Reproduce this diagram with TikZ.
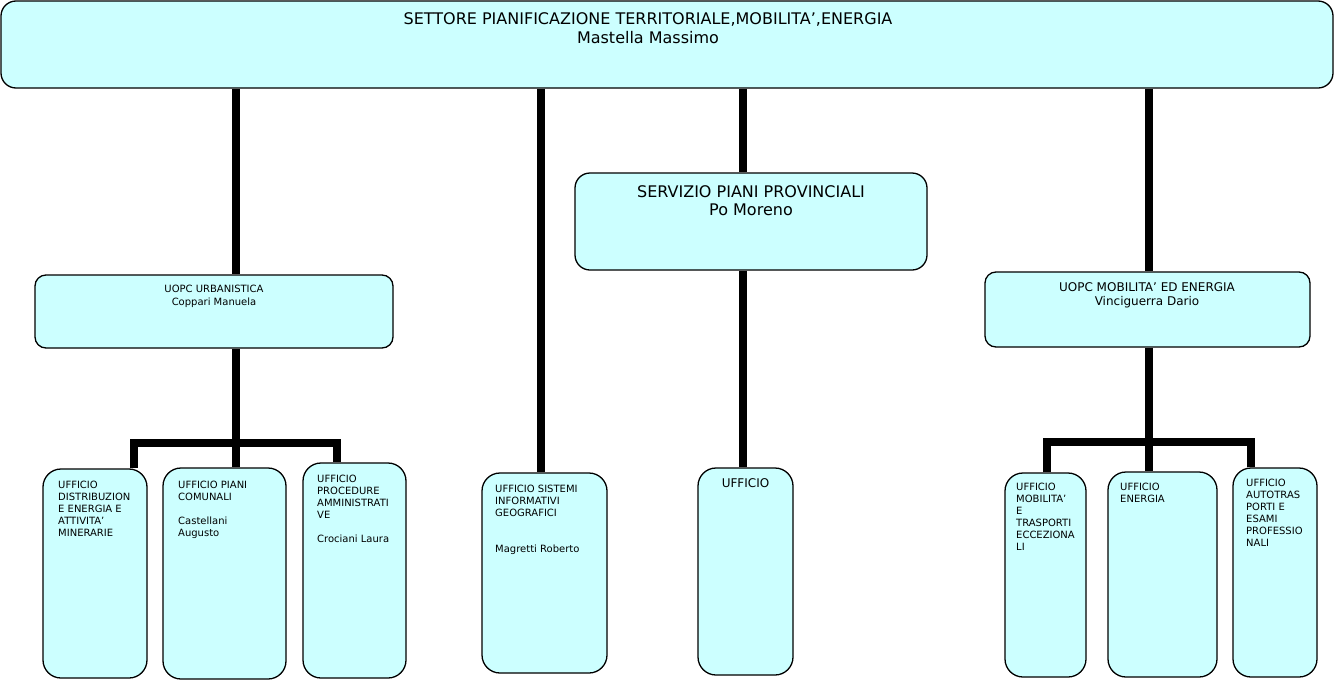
\documentclass[tikz,border=0pt]{standalone}
\usepackage{fontspec}
\setmainfont{DejaVu Sans}
\usetikzlibrary{fit}
\definecolor{boxfill}{RGB}{204,255,255}
\begin{document}
\begin{tikzpicture}[x=1pt,y=-1pt,
  box/.style={draw=black, line width=1.3pt, fill=boxfill, rounded corners=15pt, inner sep=0pt},
  sbox/.style={box, rounded corners=18pt},
  ubox/.style={box, rounded corners=11pt},
  conn/.style={line width=8pt, line cap=butt, line join=miter},
  txt/.style={inner sep=0pt, align=left, font=\fontsize{10}{12}\selectfont},
  ctxt/.style={inner sep=0pt, align=center}]
\useasboundingbox (0,0) rectangle (1334,683);

% boxes
\node[box, fit={(1,1) (1333,88)}] (top) {};
\node[box, fit={(575,173) (927,270)}] (serv) {};
\node[ubox, fit={(35,275) (393,348)}] (urb) {};
\node[ubox, fit={(985,272) (1310,347)}] (mob) {};
\node[sbox, fit={(43,469) (147,678)}] (b1) {};
\node[sbox, fit={(163,468) (286,679)}] (b2) {};
\node[sbox, fit={(303,463) (406,678)}] (b3) {};
\node[sbox, fit={(482,473) (607,673)}] (sis) {};
\node[sbox, fit={(698,468) (793,675)}] (uff) {};
\node[sbox, fit={(1005,473) (1086,677)}] (m1) {};
\node[sbox, fit={(1108,472) (1217,677)}] (m2) {};
\node[sbox, fit={(1233,468) (1317,677)}] (m3) {};

% texts
\node[ctxt, anchor=north, font=\fontsize{16}{19}\selectfont] (topt) at (648,12)
  {SETTORE PIANIFICAZIONE TERRITORIALE,MOBILITA’,ENERGIA\\Mastella Massimo};
\node[ctxt, anchor=north, font=\fontsize{16}{18.5}\selectfont] (servt) at (751,185)
  {SERVIZIO PIANI PROVINCIALI\\Po Moreno};
\node[ctxt, anchor=north, font=\fontsize{10}{13}\selectfont] (urbt) at (214,285)
  {UOPC URBANISTICA\\Coppari Manuela};
\node[ctxt, anchor=north, font=\fontsize{12}{14.5}\selectfont] (mobt) at (1147,282)
  {UOPC MOBILITA’ ED ENERGIA\\Vinciguerra Dario};
\node[txt, anchor=north west] (b1t) at (58,481)
  {UFFICIO\\DISTRIBUZION\\E ENERGIA E\\ATTIVITA’\\MINERARIE};
\node[txt, anchor=north west] (b2t) at (178,481)
  {UFFICIO PIANI\\COMUNALI\\[12pt]Castellani\\Augusto};
\node[txt, anchor=north west] (b3t) at (317,475)
  {UFFICIO\\PROCEDURE\\AMMINISTRATI\\VE\\[12pt]Crociani Laura};
\node[txt, anchor=north west] (sist) at (495,485)
  {UFFICIO SISTEMI\\INFORMATIVI\\GEOGRAFICI\\[24pt]Magretti Roberto};
\node[ctxt, anchor=north, font=\fontsize{12}{14}\selectfont] (ufft) at (745.5,478) {UFFICIO};
\node[txt, anchor=north west] (m1t) at (1016,483)
  {UFFICIO\\MOBILITA’\\E\\TRASPORTI\\ECCEZIONA\\LI};
\node[txt, anchor=north west] (m2t) at (1120,483)
  {UFFICIO\\ENERGIA};
\node[txt, anchor=north west] (m3t) at (1246,479)
  {UFFICIO\\AUTOTRAS\\PORTI E\\ESAMI\\PROFESSIO\\NALI};

% connector x positions
\coordinate (xa) at (236,0);
\coordinate (xb) at (541,0);
\coordinate (xc) at (743,0);
\coordinate (xd) at (1149,0);
\coordinate (xl1) at (134,0);
\coordinate (xl3) at (337,0);
\coordinate (xr1) at (1047,0);
\coordinate (xr3) at (1251,0);
\coordinate (ybar) at (0,443);
\coordinate (ybar2) at (0,442);

% connectors
\draw[conn] (top.south -| xa) -- (urb.north -| xa);
\draw[conn] (urb.south -| xa) -- (b2.north -| xa);
\draw[conn] (b1.north -| xl1) -- (ybar -| xl1) -- (ybar -| xl3) -- (b3.north -| xl3);
\draw[conn] (top.south -| xb) -- (sis.north -| xb);
\draw[conn] (top.south -| xc) -- (serv.north -| xc);
\draw[conn] (serv.south -| xc) -- (uff.north -| xc);
\draw[conn] (top.south -| xd) -- (mob.north -| xd);
\draw[conn] (mob.south -| xd) -- (m2.north -| xd);
\draw[conn] (m1.north -| xr1) -- (ybar2 -| xr1) -- (ybar2 -| xr3) -- (m3.north -| xr3);
\end{tikzpicture}
\end{document}
